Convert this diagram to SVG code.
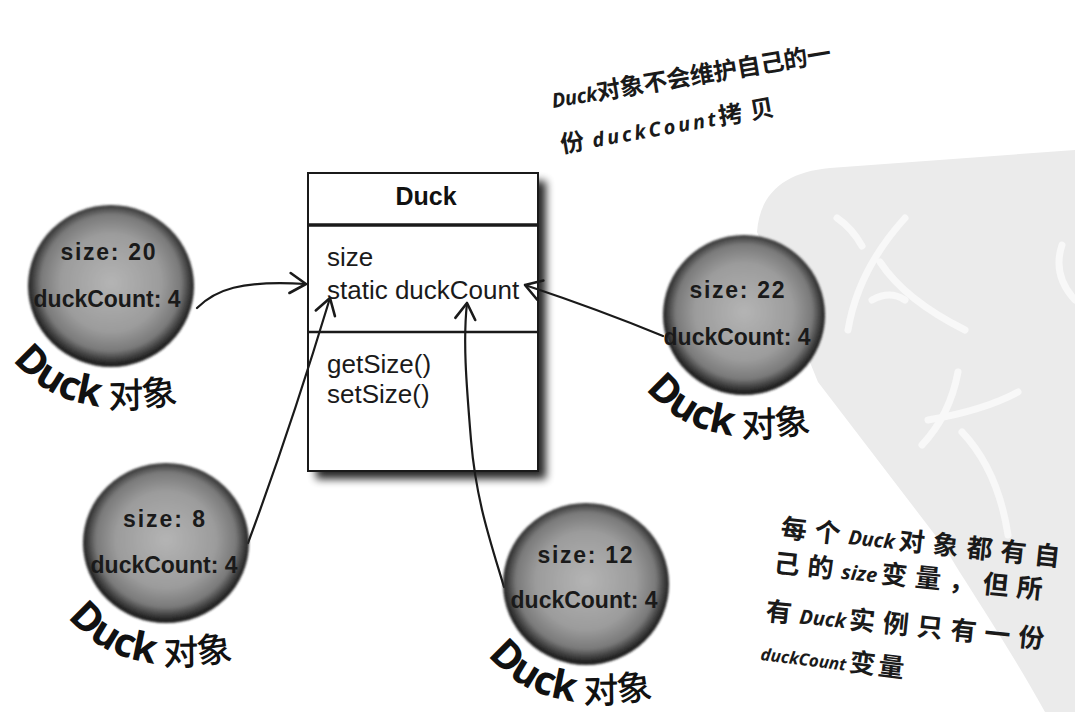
<svg xmlns="http://www.w3.org/2000/svg" width="1075" height="712" viewBox="0 0 1075 712">
<defs>
<style>
.cls{font-family:"Liberation Sans",Arial,sans-serif;font-size:26px;fill:#1a1a1a}
.ttl{font-family:"Liberation Sans",Arial,sans-serif;font-size:25px;font-weight:bold;fill:#111}
.ct{font-family:"Liberation Sans",Arial,sans-serif;font-size:23px;font-weight:bold;fill:#1a1a1a;text-anchor:middle}
.ld{font-family:"Noto Sans","Liberation Sans",sans-serif;font-size:40px;font-weight:bold;fill:#111}
.lc{font-family:"Noto Sans CJK SC",sans-serif;font-size:35px;font-weight:500;fill:#111}
.note{font-family:"Noto Sans CJK SC",sans-serif;font-size:24px;font-weight:700;fill:#1a1a1a}
.nb{font-family:"Noto Sans CJK SC",sans-serif;font-size:26px;font-weight:700;fill:#1a1a1a;letter-spacing:8px}
.it{font-style:italic;font-family:"Noto Sans","Liberation Sans",sans-serif;font-weight:700;font-size:20px;letter-spacing:0}
.edge{fill:none;stroke:#1a1a1a;stroke-width:2.2;stroke-linecap:round}
.wm{fill:none;stroke:#f8f8f8;stroke-width:7;stroke-linecap:round}
</style>
<radialGradient id="ball" cx="50%" cy="48%" r="50%">
<stop offset="0" stop-color="#b4b4b4"/>
<stop offset="0.6" stop-color="#9c9c9c"/>
<stop offset="0.84" stop-color="#7a7a7a"/>
<stop offset="0.95" stop-color="#3c3c3c"/>
<stop offset="1" stop-color="#222"/>
</radialGradient>
<filter id="soft" x="-10%" y="-10%" width="120%" height="120%"><feGaussianBlur stdDeviation="1.3"/></filter>
<filter id="shadow" x="-10%" y="-10%" width="130%" height="130%"><feGaussianBlur stdDeviation="4"/></filter>
<marker id="vh" markerUnits="userSpaceOnUse" markerWidth="30" markerHeight="30" refX="0" refY="0" viewBox="-20 -15 25 30" orient="auto">
<path d="M -16,-10 L 0,0 L -16,10" fill="none" stroke="#1a1a1a" stroke-width="2.6" stroke-linecap="round" stroke-linejoin="round"/>
</marker>
<path id="lbl" d="M -98,74 C -68,112 -12,140 100,108"/>
</defs>
<rect width="1075" height="712" fill="#fff"/>
<g id="watermark">
<path d="M 757,232 C 760,192 786,172 830,168 L 1075,150 L 1075,712 L 1045,712 C 1005,640 970,590 945,548 L 818,382 Z" fill="#ebebeb"/>
<path class="wm" d="M 837,218 Q 852,228 862,246"/>
<path class="wm" d="M 848,330 Q 858,270 905,218"/>
<path class="wm" d="M 880,262 Q 905,300 965,330"/>
<path class="wm" d="M 872,300 Q 890,290 905,300"/>
<path class="wm" d="M 958,372 Q 950,415 922,445"/>
<path class="wm" d="M 928,420 Q 985,410 1018,392"/>
<path class="wm" d="M 962,432 Q 998,470 1008,535"/>
<path class="wm" d="M 1062,245 Q 1052,275 1075,300"/>
</g>
<g id="duck-class">
<rect x="316" y="181" width="230" height="298" fill="#000" opacity="0.85" filter="url(#shadow)"/>
<rect x="308" y="173" width="230" height="298" fill="#fff" stroke="#1a1a1a" stroke-width="2"/>
<line x1="308" y1="225" x2="538" y2="225" stroke="#1a1a1a" stroke-width="3.5"/>
<line x1="308" y1="332" x2="538" y2="332" stroke="#1a1a1a" stroke-width="2.5"/>
<text class="ttl" x="426" y="205" text-anchor="middle">Duck</text>
<text class="cls" x="327" y="266">size</text>
<text class="cls" x="327" y="299">static duckCount</text>
<text class="cls" x="327" y="373">getSize()</text>
<text class="cls" x="327" y="403">setSize()</text>
</g>
<g id="connectors">
<path class="edge" d="M 197,308 C 215,290 240,280 306,284" marker-end="url(#vh)"/>
<path class="edge" d="M 248,543 Q 290,430 330,298" marker-end="url(#vh)"/>
<path class="edge" d="M 504,587 C 490,540 476,500 471,440 S 463,340 467,303" marker-end="url(#vh)"/>
<path class="edge" d="M 663,336 Q 600,310 525,285" marker-end="url(#vh)"/>
</g>
<g id="obj1" transform="translate(111,286)">
<ellipse rx="83" ry="81" fill="url(#ball)" filter="url(#soft)"/>
<text class="ct" x="-3" y="-26" textLength="95" lengthAdjust="spacing">size: 20</text>
<text class="ct" x="-4" y="21">duckCount: 4</text>
<text class="ld"><textPath href="#lbl">Duck</textPath></text>
<text class="lc"><textPath href="#lbl" startOffset="110">对象</textPath></text>
</g>
<g id="obj2" transform="translate(166,543)">
<ellipse rx="83" ry="80" fill="url(#ball)" filter="url(#soft)"/>
<text class="ct" x="-2" y="-16" textLength="82" lengthAdjust="spacing">size: 8</text>
<text class="ct" x="-2" y="30">duckCount: 4</text>
<text class="ld"><textPath href="#lbl">Duck</textPath></text>
<text class="lc"><textPath href="#lbl" startOffset="110">对象</textPath></text>
</g>
<g id="obj3" transform="translate(744,315)">
<ellipse rx="81" ry="80" fill="url(#ball)" filter="url(#soft)"/>
<text class="ct" x="-7" y="-17" textLength="95" lengthAdjust="spacing">size: 22</text>
<text class="ct" x="-7" y="30">duckCount: 4</text>
<text class="ld"><textPath href="#lbl">Duck</textPath></text>
<text class="lc"><textPath href="#lbl" startOffset="110">对象</textPath></text>
</g>
<g id="obj4" transform="translate(586,584)">
<ellipse rx="83" ry="81" fill="url(#ball)" filter="url(#soft)"/>
<text class="ct" x="-1" y="-21" textLength="95" lengthAdjust="spacing">size: 12</text>
<text class="ct" x="-2" y="24">duckCount: 4</text>
<g transform="translate(0,-3)">
<text class="ld"><textPath href="#lbl">Duck</textPath></text>
<text class="lc"><textPath href="#lbl" startOffset="110">对象</textPath></text>
</g>
</g>
<g id="note-top">
<text class="note" transform="translate(553,108) rotate(-9.5)" textLength="283" lengthAdjust="spacing"><tspan class="it">Duck</tspan>对象不会维护自己的一</text>
<text class="note" transform="translate(562,153) rotate(-10)" style="letter-spacing:8px">份<tspan class="it" style="letter-spacing:3px">duckCount</tspan>拷贝</text>
</g>
<g id="note-bottom">
<text class="nb" transform="translate(780,537) rotate(6)">每个<tspan class="it">Duck</tspan><tspan dx="4">对象都有自</tspan></text>
<text class="nb" transform="translate(773,572) rotate(5.7)">己的<tspan class="it">size</tspan><tspan dx="4">变量，但所</tspan></text>
<text class="nb" transform="translate(765,620) rotate(5.8)" style="letter-spacing:8px">有<tspan class="it">Duck</tspan><tspan dx="3">实例只有一份</tspan></text>
<text class="nb" transform="translate(760,660) rotate(7)" style="letter-spacing:3px"><tspan class="it" style="font-size:17px">duckCount</tspan><tspan dx="3">变量</tspan></text>
</g>
</svg>
